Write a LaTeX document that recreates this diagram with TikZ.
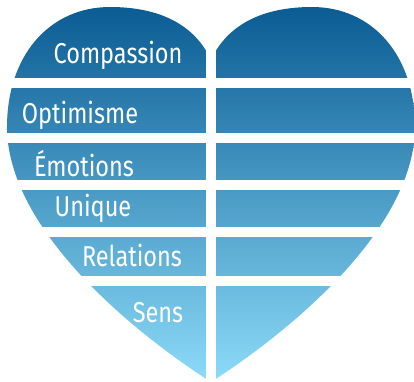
\documentclass[tikz,border=0pt]{standalone}
\usepackage{fontspec}
\newfontfamily\bandfont{Fira Sans}[FakeStretch=0.82]
\definecolor{heart top}{HTML}{0A5C93}
\definecolor{heart middle}{HTML}{52A7D4}
\definecolor{heart bottom}{HTML}{8CDBF9}
\tikzstyle{band text}=[white, font=\bandfont\fontsize{24.5}{24.5}\selectfont, inner sep=0pt, anchor=base]
\tikzstyle{cut}=[white, line width=0.3cm]
\tikzstyle{heart}=[top color=heart top, middle color=heart middle, bottom color=heart bottom]

\begin{document}
\begin{tikzpicture}[x=0.03cm,y=-0.03cm]
    \useasboundingbox (0,0) rectangle (414,381);

    % Heart
    \shade[heart] (211,382) .. controls (130,330) and (10,230) .. (7,130)
        .. controls (6,55) and (50,7) .. (110,7)
        .. controls (160,7) and (195,25) .. (211,60)
        .. controls (227,25) and (262,7) .. (312,7)
        .. controls (372,7) and (416,55) .. (415,130)
        .. controls (412,230) and (292,330) .. (211,382) -- cycle;

    % Cuts
    \draw[cut] (211,-5) -- (211,390);
    \foreach \y in {83,137.5,184.5,232,281}
        \draw[cut] (-5,\y) -- (420,\y);

    % Bands
    \draw (118,63) node[band text] (compassion) {Compassion};
    \draw (80,123) node[band text] (optimisme) {Optimisme};
    \draw (84,176) node[band text] (emotions) {Émotions};
    \draw (93,216) node[band text] (unique) {Unique};
    \draw (132,266) node[band text] (relations) {Relations};
    \draw (158,322) node[band text] (sens) {Sens};

\end{tikzpicture}
\end{document}
